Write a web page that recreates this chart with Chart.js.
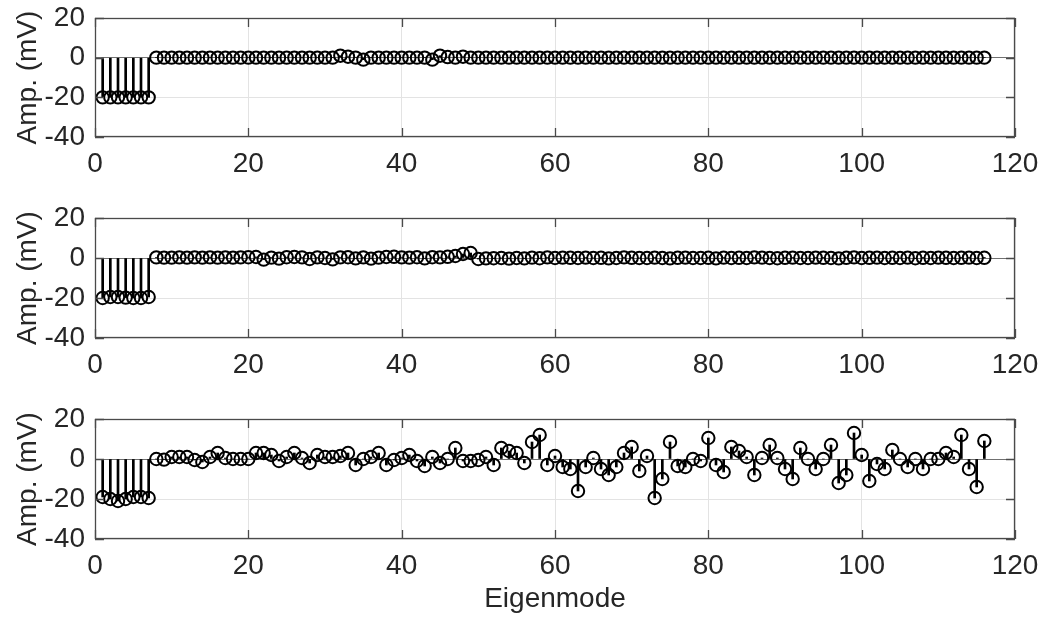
<!DOCTYPE html>
<html>
<head>
<meta charset="utf-8">
<script src="https://cdn.jsdelivr.net/npm/chart.js@4"></script>
<style>
  body { margin: 0; background: #fff; }
  canvas { position: absolute; left: 0; }
</style>
</head>
<body>
<canvas id="p1" width="1045" height="200" style="top:0px"></canvas>
<canvas id="p2" width="1045" height="200" style="top:200px"></canvas>
<canvas id="p3" width="1045" height="225" style="top:400px"></canvas>
<script>
// eigenmode index 1..116
const modes = Array.from({ length: 116 }, (_, i) => i + 1);

const ampTop = [
  -20, -20, -20, -20, -20, -20, -20,
  0, 0, 0, 0, 0, 0, 0, 0, 0, 0, 0, 0, 0, 0, 0, 0, 0, 0, 0, 0, 0, 0, 0, 0,
  1, 0.5, 0, -1, 0, 0, 0, 0, 0, 0, 0, 0, -1, 1, 0.3, 0, 0.5,
  0, 0, 0, 0, 0, 0, 0, 0, 0, 0,
  0, 0, 0, 0, 0, 0, 0, 0, 0, 0,
  0, 0, 0, 0, 0, 0, 0, 0, 0, 0,
  0, 0, 0, 0, 0, 0, 0, 0, 0, 0,
  0, 0, 0, 0, 0, 0, 0, 0, 0, 0,
  0, 0, 0, 0, 0, 0, 0, 0, 0, 0,
  0, 0, 0, 0, 0, 0, 0, 0
];

const ampMid = [
  -20, -19.5, -19.5, -19.8, -20, -20, -19.5,
  0.3, 0.2, 0.2, 0.3, 0.2, 0.3, 0.2, 0.3, 0.2, 0.3, 0.2, 0.3, 0.4,
  0.5, -0.8, 0.2, -0.3, 0.4, 0.5, 0.3, -0.5, 0.3, 0,
  -0.7, 0.3, 0.4, -0.2, 0.3, -0.3, 0.2, 0.5, 0.6, 0.3,
  0.2, 0.4, -0.2, 0.4, 0.3, 0.6, 1, 2, 2.5,
  -0.5, -0.2, -0.1, 0, -0.3, 0, -0.2, 0.2, -0.1, 0.3,
  0, 0.2, 0.1, 0, 0.2, 0, 0.1, -0.2, 0, 0.3,
  0.1, 0, 0, 0.2, 0, -0.2, 0.1, 0.2, 0, 0,
  0.1, -0.2, 0.2, 0, 0.1, 0, 0.3, 0.2, 0, -0.1,
  0.1, 0.2, 0, 0, 0.2, 0.1, 0, -0.2, 0.1, 0.3,
  0, 0.1, 0.2, 0, 0.1, 0, 0.2, -0.1, 0.1, 0,
  0.2, 0.1, 0, 0.1, 0.2, 0, 0.1
];

const ampBot = [
  -19, -20, -21, -20, -19, -19, -19.5, 0, -0.3, 1,
  1, 1, -0.5, -1.5, 1, 3, 0.5, 0, 0, 0,
  3, 3, 2, -1, 1, 3, 0.5, -2, 2, 1,
  1, 1.5, 3, -3, 0, 1, 3, -3, -0.5, 0.5,
  2, -1, -3.5, 1, -2, 0, 5.5, -1, -1, -0.5,
  1, -3, 5.5, 4, 3, -2, 8.5, 12, -3, 1.5,
  -4, -5, -16, -4, 0.5, -5, -8, -4, 3, 6,
  -6, 1.5, -19.5, -10, 8.5, -3.5, -4, 0, -1, 10.5,
  -3, -6.5, 6, 4, 1, -8, 0.5, 7, 0.5, -5,
  -10, 5.5, 0, -5, 0, 7, -12, -8, 13, 2,
  -11, -2.5, -5, 4.5, 0, -4, 0, -5, 0, 0,
  3, 1, 12, -5, -14, 9
];

const xTicks = [0, 20, 40, 60, 80, 100, 120];
const yTicks = [-40, -20, 0, 20];

const FONT = "'Liberation Sans', Arial, Helvetica, sans-serif";
const TXT = '#262626';

// matlab-like box with inward ticks
const axisBox = {
  id: 'axisBox',
  afterDraw(chart) {
    const { ctx, chartArea: a, scales: { x, y } } = chart;
    ctx.save();
    ctx.strokeStyle = '#4a4a4a';
    ctx.lineWidth = 1.3;
    ctx.beginPath();
    xTicks.forEach(v => {
      const px = Math.round(x.getPixelForValue(v)) + 0.5;
      ctx.moveTo(px, a.bottom); ctx.lineTo(px, a.bottom - 9);
      ctx.moveTo(px, a.top); ctx.lineTo(px, a.top + 9);
    });
    yTicks.forEach(v => {
      const py = Math.round(y.getPixelForValue(v)) + 0.5;
      ctx.moveTo(a.left, py); ctx.lineTo(a.left + 9, py);
      ctx.moveTo(a.right, py); ctx.lineTo(a.right - 9, py);
    });
    ctx.stroke();
    ctx.strokeRect(a.left + 0.5, a.top + 0.5, a.width - 1, a.height - 1);
    ctx.restore();
  }
};

function stemPanel(id, values, topPad, xAxisH, xTitle) {
  const pts = modes.map((m, i) => ({ x: m, y: values[i] }));
  return new Chart(document.getElementById(id), {
    type: 'bar',
    data: {
      datasets: [
        {
          type: 'line',
          data: pts,
          showLine: false,
          pointStyle: 'circle',
          pointRadius: 6.2,
          pointBorderWidth: 2,
          pointBorderColor: '#000',
          pointBackgroundColor: 'rgba(0,0,0,0)',
          order: 1
        },
        {
          type: 'bar',
          data: pts,
          backgroundColor: '#000',
          barThickness: 2,
          borderWidth: 0,
          order: 2
        }
      ]
    },
    options: {
      responsive: false,
      animation: false,
      layout: { autoPadding: false, padding: { top: topPad, right: 30, left: 0, bottom: 0 } },
      plugins: { legend: { display: false }, tooltip: { enabled: false } },
      scales: {
        x: {
          type: 'linear',
          min: 0, max: 120,
          offset: false,
          afterFit: s => { s.height = xAxisH; s.paddingLeft = 0; s.paddingRight = 0; },
          grid: { offset: false, drawTicks: false, color: '#e3e3e3' },
          border: { display: false },
          ticks: { stepSize: 20, maxRotation: 0, padding: 10, color: TXT, font: { family: FONT, size: 28 } },
          title: {
            display: !!xTitle, text: xTitle || '',
            color: TXT, font: { family: FONT, size: 28 },
            padding: { top: 0, bottom: 9 }
          }
        },
        y: {
          min: -40, max: 20,
          afterFit: s => { s.width = 95; s.paddingTop = 0; s.paddingBottom = 0; },
          grid: {
            drawTicks: false,
            color: c => (c.tick && c.tick.value === 0) ? '#707070' : '#e3e3e3'
          },
          border: { display: false },
          ticks: { stepSize: 20, padding: 10, color: TXT, font: { family: FONT, size: 28 } },
          title: {
            display: true, text: 'Amp. (mV)',
            color: TXT, font: { family: FONT, size: 28 },
            padding: { top: 11, bottom: 0 }
          }
        }
      }
    },
    plugins: [axisBox]
  });
}

stemPanel('p1', ampTop, 18, 63);
stemPanel('p2', ampMid, 18, 62);
stemPanel('p3', ampBot, 19, 86, 'Eigenmode');
</script>
</body>
</html>
